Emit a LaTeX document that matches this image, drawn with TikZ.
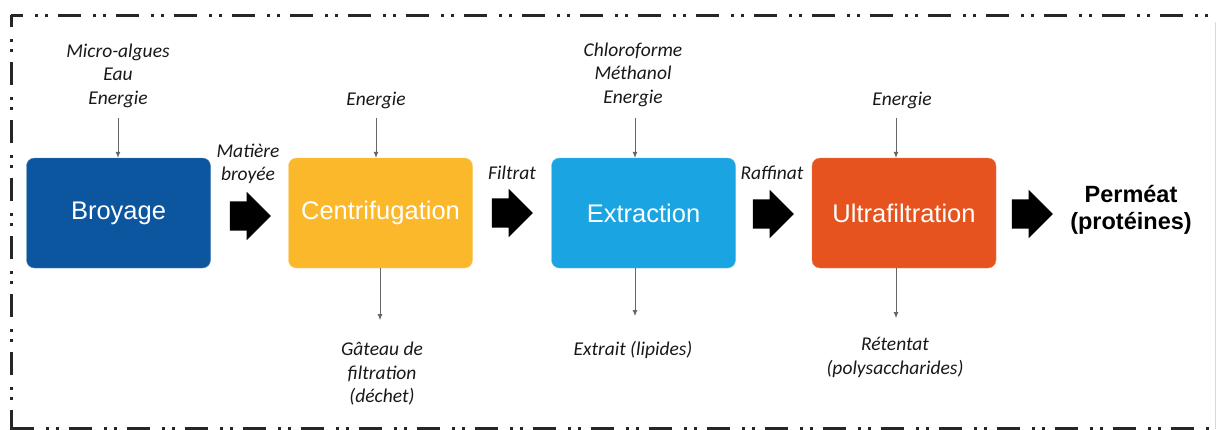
\documentclass[tikz,border=0pt]{standalone}
\usepackage{fontspec}
\setmainfont{Liberation Sans}
\newfontfamily\calib{Carlito}
\usetikzlibrary{arrows.meta,shapes.arrows}
\definecolor{cBlue}{RGB}{12,86,160}
\definecolor{cYellow}{RGB}{250,184,42}
\definecolor{cCyan}{RGB}{26,164,226}
\definecolor{cOrange}{RGB}{230,83,31}
\begin{document}
\begin{tikzpicture}[x=1pt,y=-1pt,
  procbox/.style={rounded corners=8pt, minimum width=184pt, minimum height=110pt,
    text=white, font=\fontsize{25.5}{30}\selectfont, inner sep=0pt},
  lbl/.style={font=\calib\itshape\fontsize{19.5}{23.5}\selectfont, align=center,
    text=black!90, inner sep=0pt},
  flow/.style={draw=black!60, line width=0.8pt, -{Latex[length=6pt,width=5pt]}},
  bigarrow/.style={single arrow, fill=black, draw=none, minimum width=0pt,
    inner xsep=0pt, inner ysep=14.5pt, single arrow head extend=9.5pt,
    minimum height=41pt},
  frame/.style={line width=3pt, draw=black!85,
    dash pattern=on 23pt off 12pt on 2.5pt off 7.5pt on 2.5pt off 10.5pt}]
\useasboundingbox (0,0) rectangle (1216,429);
\fill[white] (0,0) rectangle (1216,429);

% frame
\draw[frame, dash phase=11pt] (11,15) -- (1216,15);
\draw[frame, dash phase=11pt] (11,15) -- (11,430);
\draw[frame] (11,428.5) -- (1216,428.5);
\draw[black!15, line width=1pt] (1215,22) -- (1215,429);

% process boxes
\node[procbox, fill=cBlue, draw=cBlue!70!white] (b1) at (118.5,213) {Broyage};
\node[procbox, fill=cYellow, draw=cYellow!70!white] (b2) at (380.5,213) {Centrifugation};
\node[procbox, fill=cCyan, draw=cCyan!70!white] (b3) at (643.5,213) {Extraction};
\node[procbox, fill=cOrange, draw=cOrange!70!white] (b4) at (904,213) {Ultrafiltration};

% block arrows
\node[bigarrow] (a1) at (243,216) {};
\node[bigarrow] (a2) at (505,213) {};
\node[bigarrow] (a3) at (766,214) {};
\node[bigarrow] (a4) at (1025,214) {};

% labels of block arrows
\node[lbl] (l1) at (248,164) {Matière\\broyée};
\node[lbl] (l2) at (512,173) {Filtrat};
\node[lbl] (l3) at (772,173) {Raffinat};
\node[font=\bfseries\fontsize{23.5}{27}\selectfont, align=center, inner sep=0pt] (out) at (1131,210) {Perméat\\(protéines)};

% inputs
\node[lbl] (in1) at (118,75.5) {Micro-algues\\Eau\\Energie};
\node[lbl] (in2) at (376,100) {Energie};
\node[lbl] (in3) at (633,74.5) {Chloroforme\\Méthanol\\Energie};
\node[lbl] (in4) at (902,100) {Energie};
\coordinate (i1) at (118,118);
\coordinate (i2) at (376,118);
\coordinate (i3) at (635,118);
\coordinate (i4) at (896,118);
\draw[flow] (i1) -- (i1 |- b1.north);
\draw[flow] (i2) -- (i2 |- b2.north);
\draw[flow] (i3) -- (i3 |- b3.north);
\draw[flow] (i4) -- (i4 |- b4.north);

% outputs
\coordinate (o2) at (380,320);
\coordinate (o3) at (635,316);
\coordinate (o4) at (896,318);
\draw[flow] (b2.south -| o2) -- (o2);
\draw[flow] (b3.south -| o3) -- (o3);
\draw[flow] (b4.south -| o4) -- (o4);
\node[lbl] (out2) at (382,374) {Gâteau de\\filtration\\(déchet)};
\node[lbl] (out3) at (633,350) {Extrait (lipides)};
\node[lbl] (out4) at (895,357.5) {Rétentat\\(polysaccharides)};
\end{tikzpicture}
\end{document}
